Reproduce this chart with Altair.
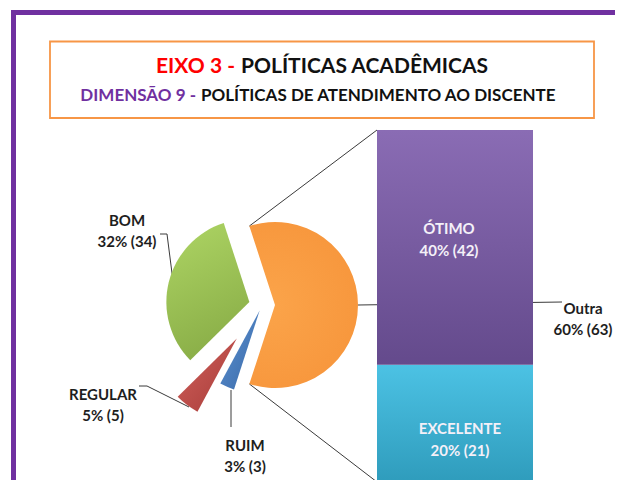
import math
import altair as alt
import pandas as pd

# ---------------- data ----------------
pie_labels = ["Outra", "RUIM", "REGULAR", "BOM"]
pie_values = [63, 3, 5, 34]
bar_labels = ["EXCELENTE", "ÓTIMO"]
bar_values = [21, 42]
title_1 = ["EIXO 3 -", "POLÍTICAS ACADÊMICAS"]
title_2 = ["DIMENSÃO 9 -", "POLÍTICAS DE ATENDIMENTO AO DISCENTE"]

# ---------------- layout ----------------
W, H = 607, 472
OFF = 8  # page margin


def P(v):
    return v - OFF


FONT = "Lato"
TOTAL = sum(pie_values)
CX, CY, R = 262, 305, 83
START = math.radians(90) - math.pi * pie_values[0] / TOTAL  # "Outra" centred on the right
START = START % (2 * math.pi)
explode = {"Outra": 13, "RUIM": 6, "REGULAR": 42, "BOM": 13}

c0, c1, acc = [], [], 0
for v in pie_values:
    c0.append(acc)
    acc += v
    c1.append(acc)

pie_df = pd.DataFrame({"cat": pie_labels, "v": pie_values, "c0": c0, "c1": c1})
mid = [START + (a + b) / 2 / TOTAL * 2 * math.pi for a, b in zip(c0, c1)]
pie_df["cx"] = [P(CX + explode[c] * math.sin(m)) for c, m in zip(pie_labels, mid)]
pie_df["cy"] = [P(CY - explode[c] * math.cos(m)) for c, m in zip(pie_labels, mid)]

BAR_X0, BAR_X1, BAR_TOP, BAR_BOT = 377, 533, 130, 482
b0, b1, acc = [], [], 0
for v in bar_values:
    b0.append(acc)
    acc += v
    b1.append(acc)
bar_df = pd.DataFrame({"cat": bar_labels, "v": bar_values, "b0": b0, "b1": b1})

pie_grad = {
    "Outra": {"gradient": "radial", "x1": 0.3, "y1": 0.5, "r1": 0.0, "x2": 0.3, "y2": 0.5, "r2": 0.78,
              "stops": [{"offset": 0, "color": "#FBA44A"}, {"offset": 0.75, "color": "#F7963C"},
                        {"offset": 1, "color": "#E27D24"}]},
    "BOM": {"gradient": "linear", "x1": 0.3, "y1": 0, "x2": 0.6, "y2": 1,
            "stops": [{"offset": 0, "color": "#ABD262"}, {"offset": 1, "color": "#88AC46"}]},
    "REGULAR": {"gradient": "linear", "x1": 0, "y1": 0, "x2": 1, "y2": 1,
                "stops": [{"offset": 0, "color": "#D2615C"}, {"offset": 1, "color": "#A63B38"}]},
    "RUIM": {"gradient": "linear", "x1": 0, "y1": 0, "x2": 1, "y2": 1,
             "stops": [{"offset": 0, "color": "#5E93D4"}, {"offset": 1, "color": "#3868A6"}]},
}
bar_grad = {
    "ÓTIMO": {"gradient": "linear", "x1": 0, "y1": 0, "x2": 0, "y2": 1,
              "stops": [{"offset": 0, "color": "#8A6CB4"}, {"offset": 1, "color": "#644A8C"}]},
    "EXCELENTE": {"gradient": "linear", "x1": 0, "y1": 0, "x2": 0, "y2": 1,
                  "stops": [{"offset": 0, "color": "#4CC2E4"}, {"offset": 1, "color": "#2F9CBC"}]},
}

one = pd.DataFrame({"a": [0]})
layers = []

# outer purple frame
layers.append(alt.Chart(one).mark_rect(filled=False, stroke="#7030A0", strokeWidth=5).encode(
    x=alt.value(P(13.5)), x2=alt.value(P(13.5) + 800), y=alt.value(P(12.5)), y2=alt.value(P(12.5) + 800)))
# title box
layers.append(alt.Chart(one).mark_rect(fill="white", stroke="#F79646", strokeWidth=1.8).encode(
    x=alt.value(P(50)), x2=alt.value(P(594)), y=alt.value(P(41.5)), y2=alt.value(P(118))))

# title texts
layers.append(alt.Chart(one).mark_text(text=title_1[0], font=FONT, fontSize=21, fontWeight="bold",
                                       color="#FF0000", align="right", baseline="middle").encode(
    x=alt.value(P(235)), y=alt.value(P(67))))
layers.append(alt.Chart(one).mark_text(text=title_1[1], font=FONT, fontSize=21, fontWeight="bold",
                                       color="#111111", align="left", baseline="middle").encode(
    x=alt.value(P(241)), y=alt.value(P(67))))
layers.append(alt.Chart(one).mark_text(text=title_2[0], font=FONT, fontSize=17, fontWeight="bold",
                                       color="#7030A0", align="right", baseline="middle").encode(
    x=alt.value(P(196)), y=alt.value(P(96))))
layers.append(alt.Chart(one).mark_text(text=title_2[1], font=FONT, fontSize=17, fontWeight="bold",
                                       color="#111111", align="left", baseline="middle").encode(
    x=alt.value(P(201)), y=alt.value(P(96))))

# leader / connector lines
a_top = START
a_bot = START + 2 * math.pi * pie_values[0] / TOTAL
ox = CX + explode["Outra"]
lines = [
    ("top", [(ox + R * math.sin(a_top), CY - R * math.cos(a_top)), (BAR_X0, BAR_TOP)]),
    ("bot", [(ox + R * math.sin(a_bot), CY - R * math.cos(a_bot)), (BAR_X0, BAR_BOT)]),
    ("outra", [(ox + R, CY), (562, 302)]),
    ("bom", [(160, 234), (167, 234), (173, 281)]),
    ("reg", [(139, 386), (147, 386), (189, 407)]),
    ("ruim", [(231, 390), (231, 427)]),
]
rows = []
for name, pts in lines:
    for i, (x, y) in enumerate(pts):
        rows.append({"seg": name, "o": i, "x": P(x), "y": P(y)})
line_df = pd.DataFrame(rows)
layers.append(alt.Chart(line_df).mark_line(stroke="#3A3A3A", strokeWidth=1).encode(
    x=alt.X("x:Q", scale=None), y=alt.Y("y:Q", scale=None), detail="seg:N", order="o:Q"))

# pie slices
theta_scale = alt.Scale(domain=[0, TOTAL], range=[START, START + 2 * math.pi])
for cat in pie_labels:
    layers.append(alt.Chart(pie_df).transform_filter(alt.datum.cat == cat).mark_arc(
        radius=R, fill=pie_grad[cat]).encode(
        theta=alt.Theta("c0:Q", stack=None, scale=theta_scale),
        theta2="c1:Q",
        x=alt.X("cx:Q", scale=None), y=alt.Y("cy:Q", scale=None)))

# bar of pie
for cat in bar_labels:
    layers.append(alt.Chart(bar_df).transform_filter(alt.datum.cat == cat).mark_rect(
        fill=bar_grad[cat]).encode(
        x=alt.value(P(BAR_X0)), x2=alt.value(P(BAR_X1)),
        y=alt.Y("b0:Q", scale=alt.Scale(domain=[0, sum(bar_values)],
                                         range=[P(BAR_BOT), P(BAR_TOP)]), axis=None),
        y2="b1:Q"))

# data labels
label_pos = {"BOM": (127, 221), "REGULAR": (103, 395), "RUIM": (245, 446), "Outra": (583, 309),
             "ÓTIMO": (449, 229), "EXCELENTE": (460, 429)}
lab_rows = []
for name, v in list(zip(pie_labels, pie_values)) + list(zip(bar_labels, bar_values)):
    pct = round(v / TOTAL * 100)
    lab_rows.append({"cat": name, "txt": f"{name}\n{pct}% ({v})",
                     "x": P(label_pos[name][0]), "y": P(label_pos[name][1]),
                     "inbar": name in bar_labels})
lab_df = pd.DataFrame(lab_rows)
layers.append(alt.Chart(lab_df).transform_filter("!datum.inbar").mark_text(
    font=FONT, fontSize=15, fontWeight="bold", color="#1E1E1E", lineBreak="\n", lineHeight=21,
    align="center", baseline="middle").encode(
    x=alt.X("x:Q", scale=None), y=alt.Y("y:Q", scale=None), text="txt:N"))
layers.append(alt.Chart(lab_df).transform_filter("datum.inbar").mark_text(
    font=FONT, fontSize=15, fontWeight="bold", color="#F4F0F8", lineBreak="\n", lineHeight=22,
    align="center", baseline="middle").encode(
    x=alt.X("x:Q", scale=None), y=alt.Y("y:Q", scale=None), text="txt:N"))

chart = alt.layer(*layers).resolve_scale(x="independent", y="independent").properties(
    width=W, height=H, autosize=alt.AutoSizeParams(type="none"), padding=0,
    background="white").configure_view(stroke=None)

chart.save("out.html", embed_options={"renderer": "svg", "actions": False})
